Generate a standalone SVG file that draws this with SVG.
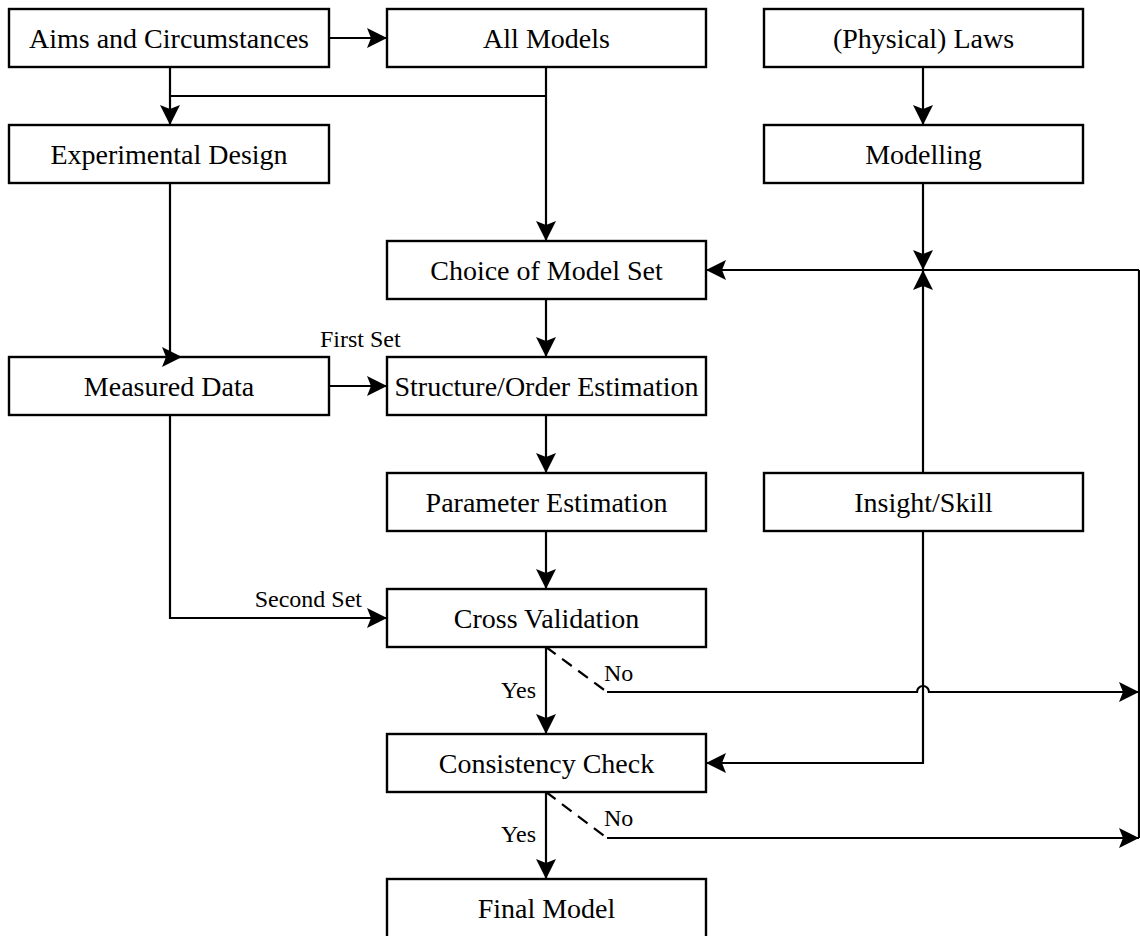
<svg xmlns="http://www.w3.org/2000/svg" width="1140" height="936" viewBox="0 0 1140 936">
<style>
.box{fill:#fff;stroke:#000;stroke-width:2.4}
.t{font-family:"Liberation Serif","Times New Roman",serif;font-size:28px;fill:#000;text-anchor:middle}
.s{font-family:"Liberation Serif","Times New Roman",serif;font-size:24px;fill:#000}
.c{fill:none;stroke:#000;stroke-width:2.2}
.d{fill:none;stroke:#000;stroke-width:2.2;stroke-dasharray:12,8}
</style>
<defs>
<marker id="ah" markerUnits="userSpaceOnUse" markerWidth="22" markerHeight="22" viewBox="0 0 22 22" refX="21" refY="11" orient="auto">
<path d="M1,1 L21,11 L1,21 L5,11 z" fill="#000"/>
</marker>
</defs>
<rect width="1140" height="936" fill="#fff"/>
<g id="aims"><rect class="box" x="9" y="9" width="320" height="58"/><text class="t" x="169" y="47.5">Aims and Circumstances</text></g>
<g id="allmodels"><rect class="box" x="387" y="9" width="319" height="58"/><text class="t" x="546.5" y="47.5">All Models</text></g>
<g id="laws"><rect class="box" x="764" y="9" width="319" height="58"/><text class="t" x="923.5" y="47.5">(Physical) Laws</text></g>
<g id="expdesign"><rect class="box" x="9" y="125" width="320" height="58"/><text class="t" x="169" y="163.5">Experimental Design</text></g>
<g id="modelling"><rect class="box" x="764" y="125" width="319" height="58"/><text class="t" x="923.5" y="163.5">Modelling</text></g>
<g id="choice"><rect class="box" x="387" y="241" width="319" height="58"/><text class="t" x="546.5" y="279.5">Choice of Model Set</text></g>
<g id="measured"><rect class="box" x="9" y="357" width="320" height="58"/><text class="t" x="169" y="395.5">Measured Data</text></g>
<g id="structure"><rect class="box" x="387" y="357" width="319" height="58"/><text class="t" x="546.5" y="395.5">Structure/Order Estimation</text></g>
<g id="parameter"><rect class="box" x="387" y="473" width="319" height="58"/><text class="t" x="546.5" y="511.5">Parameter Estimation</text></g>
<g id="insight"><rect class="box" x="764" y="473" width="319" height="58"/><text class="t" x="923.5" y="511.5">Insight/Skill</text></g>
<g id="crossval"><rect class="box" x="387" y="589" width="319" height="58"/><text class="t" x="546.5" y="627.5">Cross Validation</text></g>
<g id="consistency"><rect class="box" x="387" y="734" width="319" height="58"/><text class="t" x="546.5" y="772.5">Consistency Check</text></g>
<g id="final"><rect class="box" x="387" y="879" width="319" height="62"/><text class="t" x="546.5" y="917.5">Final Model</text></g>
<g id="connectors">
<path class="c" d="M329,38 H387" marker-end="url(#ah)"/>
<path class="c" d="M170,67 V125" marker-end="url(#ah)"/>
<path class="c" d="M170,96 H546"/>
<path class="c" d="M546,67 V241" marker-end="url(#ah)"/>
<path class="c" d="M923,67 V125" marker-end="url(#ah)"/>
<path class="c" d="M170,183 V357 H182" marker-end="url(#ah)"/>
<path class="c" d="M923,183 V270" marker-end="url(#ah)"/>
<path class="c" d="M923,473 V270" marker-end="url(#ah)"/>
<path class="c" d="M1139,270 H706" marker-end="url(#ah)"/>
<path class="c" d="M1139,270 V838"/>
<path class="c" d="M546,299 V357" marker-end="url(#ah)"/>
<path class="c" d="M329,386 H387" marker-end="url(#ah)"/>
<path class="c" d="M546,415 V473" marker-end="url(#ah)"/>
<path class="c" d="M546,531 V589" marker-end="url(#ah)"/>
<path class="c" d="M170,415 V618 H387" marker-end="url(#ah)"/>
<path class="c" d="M546,647 V734" marker-end="url(#ah)"/>
<path class="d" d="M546,647 L607,692"/>
<path class="c" d="M607,692 H917 A6,6 0 0 1 929,692 H1139" marker-end="url(#ah)"/>
<path class="c" d="M923,531 V763 H706" marker-end="url(#ah)"/>
<path class="c" d="M546,792 V879" marker-end="url(#ah)"/>
<path class="d" d="M546,792 L607,838"/>
<path class="c" d="M607,838 H1139" marker-end="url(#ah)"/>
<text class="s" x="320" y="347">First Set</text>
<text class="s" x="362" y="607" text-anchor="end">Second Set</text>
<text class="s" x="604" y="681">No</text>
<text class="s" x="536" y="698" text-anchor="end">Yes</text>
<text class="s" x="604" y="826">No</text>
<text class="s" x="536" y="842" text-anchor="end">Yes</text>
</g>
</svg>
